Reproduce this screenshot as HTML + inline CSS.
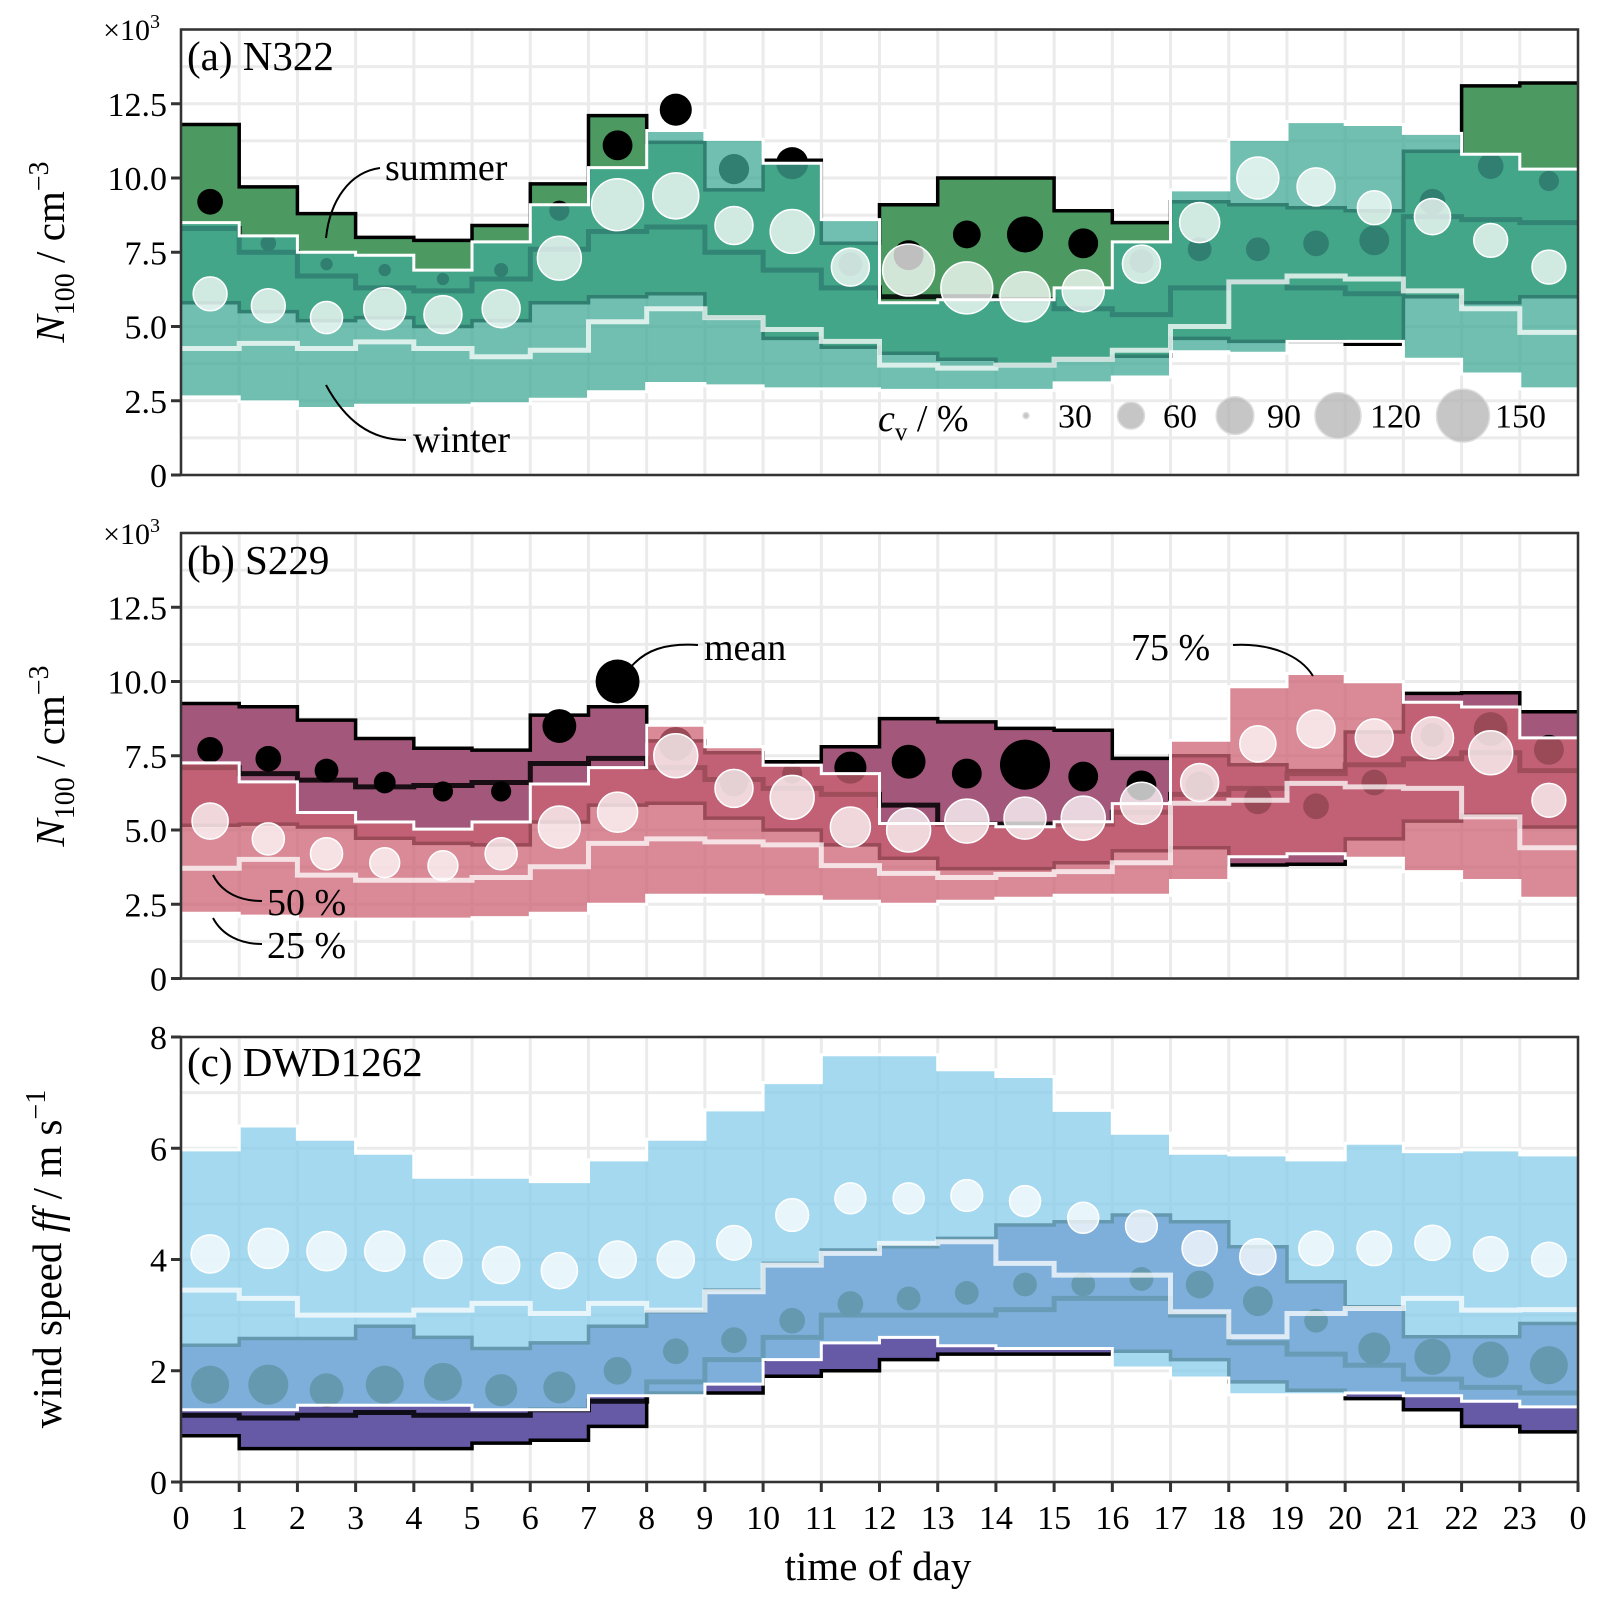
<!DOCTYPE html>
<html><head><meta charset="utf-8">
<style>
html,body{margin:0;padding:0;background:#fff;}
svg{display:block;font-family:"Liberation Serif","DejaVu Serif",serif;}
</style></head>
<body>
<svg id="chart" xmlns="http://www.w3.org/2000/svg" width="1604" height="1610" viewBox="0 0 1604 1610">
<rect x="0" y="0" width="1604" height="1610" fill="#fff"/>
<g id="layer"></g>
<g font-family="Liberation Serif, serif" fill="#000">
  <text x="160" y="40" font-size="30" text-anchor="end">×10<tspan font-size="20" dy="-12">3</tspan></text>
  <text x="160" y="544" font-size="30" text-anchor="end">×10<tspan font-size="20" dy="-12">3</tspan></text>

  <text x="187" y="70" font-size="41">(a) N322</text>
  <text x="187" y="574" font-size="41">(b) S229</text>
  <text x="187" y="1076" font-size="41">(c) DWD1262</text>

  <text transform="translate(64,252) rotate(-90)" text-anchor="middle" font-size="41"><tspan font-style="italic">N</tspan><tspan font-size="28" dy="10">100</tspan><tspan dy="-10"> / cm</tspan><tspan font-size="28" dy="-16">−3</tspan></text>
  <text transform="translate(64,756) rotate(-90)" text-anchor="middle" font-size="41"><tspan font-style="italic">N</tspan><tspan font-size="28" dy="10">100</tspan><tspan dy="-10"> / cm</tspan><tspan font-size="28" dy="-16">−3</tspan></text>
  <text transform="translate(61,1259) rotate(-90)" text-anchor="middle" font-size="41">wind speed <tspan font-style="italic">ff</tspan> / m s<tspan font-size="28" dy="-16">−1</tspan></text>

  <text x="878" y="1580" font-size="41" text-anchor="middle">time of day</text>

  <text x="385" y="180" font-size="38">summer</text>
  <path d="M380,168 C350,172 330,200 326,238" fill="none" stroke="#000" stroke-width="2"/>
  <text x="413" y="452" font-size="38">winter</text>
  <path d="M406,440 C370,440 345,420 326,385" fill="none" stroke="#000" stroke-width="2"/>

  <text x="878" y="431" font-size="38"><tspan font-style="italic">c</tspan><tspan font-size="25" dy="9">v</tspan><tspan dy="-9"> / %</tspan></text>

  <text x="704" y="660" font-size="38">mean</text>
  <path d="M698,645 C665,643 645,650 630,668" fill="none" stroke="#000" stroke-width="2"/>
  <text x="1131" y="660" font-size="38">75 %</text>
  <path d="M1233,645 C1270,643 1300,655 1313,676" fill="none" stroke="#000" stroke-width="2"/>
  <text x="267" y="915" font-size="38">50 %</text>
  <path d="M262,901 C240,901 222,893 213,875" fill="none" stroke="#000" stroke-width="2"/>
  <text x="267" y="958" font-size="38">25 %</text>
  <path d="M262,944 C240,944 222,935 213,918" fill="none" stroke="#000" stroke-width="2"/>
</g>
</svg>
<script>
const hours = [0,1,2,3,4,5,6,7,8,9,10,11,12,13,14,15,16,17,18,19,20,21,22,23];
const xTickLabels = ["0","1","2","3","4","5","6","7","8","9","10","11","12","13","14","15","16","17","18","19","20","21","22","23","0"];
const yTicksN = [0,2.5,5,7.5,10,12.5];
const yTickLabelsN = ["0","2.5","5.0","7.5","10.0","12.5"];
const yTicksW = [0,2,4,6,8];
const yTickLabelsW = ["0","2","4","6","8"];

// Panel (a) N322, x10^3 cm^-3
const aSummerQ75 = [11.8,9.7,8.8,8.0,7.9,8.4,9.8,12.1,11.2,9.6,10.6,7.8,9.1,10.0,10.0,8.9,8.5,9.2,9.1,9.0,8.9,10.9,13.1,13.2];
const aSummerQ50 = [8.3,7.5,6.7,6.3,6.2,6.6,7.6,8.2,8.35,7.5,6.9,6.3,6.0,6.0,5.9,5.6,5.4,6.3,6.5,6.3,6.1,8.7,8.6,8.5];
const aSummerQ25 = [5.8,5.5,5.2,5.3,5.0,5.2,5.8,6.0,6.1,5.3,4.6,4.3,4.1,3.9,3.7,3.9,4.0,4.6,4.5,4.5,4.4,6.0,5.8,6.0];
const aWinterQ75 = [8.5,8.05,7.5,7.4,6.9,7.85,9.1,10.35,11.6,11.3,10.5,8.6,5.8,5.9,5.9,6.3,7.85,9.6,11.3,11.9,11.8,11.5,10.8,10.3];
const aWinterQ50 = [4.26,4.43,4.26,4.48,4.26,3.98,4.2,5.16,5.6,5.3,4.9,4.5,3.7,3.6,3.7,3.9,4.2,5.0,6.5,6.7,6.6,6.2,5.6,4.8];
const aWinterQ25 = [2.63,2.46,2.24,2.35,2.35,2.4,2.55,2.8,3.08,3.0,2.9,2.9,2.85,2.85,2.85,3.1,3.3,4.15,4.1,4.5,4.5,3.9,3.4,2.9];
const aSummerMean = [9.2,7.8,7.1,6.9,6.6,6.9,8.9,11.1,12.3,10.3,10.5,7.1,7.4,8.1,8.1,7.8,7.2,7.6,7.6,7.8,7.9,9.2,10.4,9.9];
const aSummerCv = [57,39,35,35,35,37,46,67,73,68,73,53,67,62,85,67,53,53,53,57,67,57,57,46];
const aWinterMean = [6.1,5.7,5.3,5.6,5.4,5.6,7.3,9.1,9.4,8.4,8.2,7.0,6.9,6.3,6.0,6.2,7.1,8.5,10.0,9.7,9.0,8.7,7.9,7.0];
const aWinterCv = [78,78,73,105,91,91,112,145,120,91,112,91,145,145,137,105,91,98,105,91,78,85,78,78];

// Panel (b) S229
const bSummerQ75 = [9.26,9.15,8.7,8.08,7.75,7.69,8.87,9.15,8.0,7.6,7.3,7.8,8.75,8.64,8.42,8.36,7.41,7.5,7.2,7.0,8.3,9.6,9.62,8.98];
const bSummerQ50 = [7.1,6.9,6.68,6.45,6.5,6.6,7.24,7.41,7.1,6.7,6.4,6.2,5.84,5.2,5.2,5.2,5.6,6.2,6.4,6.9,7.2,7.4,7.6,7.0];
const bSummerQ25 = [5.16,5.2,5.1,4.72,4.55,4.5,5.27,5.84,5.9,5.4,5.0,4.5,4.05,3.7,3.7,3.9,4.3,4.4,3.82,3.85,4.7,5.3,5.5,5.1];
const bWinterQ75 = [7.26,6.62,5.59,5.27,5.03,5.27,6.55,7.1,8.53,7.8,7.18,6.9,5.22,5.22,5.11,5.28,5.89,8.02,9.82,10.27,9.99,9.3,9.14,8.1];
const bWinterQ50 = [3.71,4.01,3.48,3.31,3.31,3.4,3.76,4.55,4.7,4.6,4.5,3.8,3.54,3.4,3.5,3.6,3.9,5.9,6.0,6.57,6.45,6.4,5.44,4.4];
const bWinterQ25 = [2.2,2.1,2.0,2.0,2.0,2.05,2.2,2.5,2.8,2.8,2.75,2.6,2.5,2.6,2.7,2.8,2.8,3.3,4.1,4.2,4.05,3.6,3.3,2.7];
const bSummerMean = [7.7,7.4,7.0,6.6,6.3,6.3,8.5,10.0,7.9,6.6,6.9,7.1,7.3,6.9,7.2,6.8,6.5,6.5,6.0,5.8,6.6,8.2,8.4,7.7];
const bSummerCv = [57,57,53,49,46,46,78,112,78,62,46,73,78,67,137,67,67,62,62,57,57,53,78,67];
const bWinterMean = [5.3,4.7,4.2,3.9,3.8,4.2,5.1,5.6,7.5,6.4,6.1,5.1,5.0,5.3,5.4,5.4,5.9,6.6,7.9,8.4,8.1,8.1,7.6,6.0];
const bWinterCv = [85,73,73,67,67,73,105,98,112,91,112,98,112,112,105,112,105,91,85,91,91,105,112,78];

// Panel (c) DWD1262 wind speed, m/s
const cSummerQ75 = [2.46,2.58,2.58,2.8,2.6,2.4,2.5,2.8,3.06,3.45,3.93,4.17,4.23,4.38,4.62,4.68,4.8,4.68,4.23,3.6,3.15,2.61,2.61,2.85];
const cSummerQ50 = [1.2,1.15,1.2,1.25,1.2,1.2,1.3,1.45,1.8,2.2,2.6,3.0,3.0,3.0,3.1,3.3,3.3,3.0,2.5,2.3,2.1,1.85,1.7,1.6];
const cSummerQ25 = [0.83,0.6,0.6,0.6,0.6,0.7,0.75,1.0,1.6,1.6,1.9,2.0,2.2,2.3,2.3,2.3,2.35,2.2,1.8,1.65,1.5,1.3,1.0,0.9];
const cWinterQ75 = [5.97,6.4,6.16,5.91,5.48,5.48,5.4,5.79,6.16,6.69,7.18,7.68,7.68,7.41,7.29,6.68,6.27,5.91,5.88,5.79,6.09,5.94,5.97,5.88];
const cWinterQ50 = [3.45,3.3,3.0,3.0,3.09,3.21,3.03,3.21,3.09,3.42,3.9,4.11,4.29,4.32,3.93,3.72,3.72,3.06,2.61,3.03,3.12,3.3,3.09,3.1];
const cWinterQ25 = [1.3,1.3,1.38,1.38,1.38,1.3,1.3,1.55,1.55,1.76,2.2,2.5,2.6,2.45,2.4,2.4,2.05,1.87,1.57,1.57,1.6,1.55,1.45,1.35];
const cSummerMean = [1.75,1.75,1.65,1.75,1.8,1.65,1.7,2.0,2.35,2.55,2.9,3.2,3.3,3.4,3.55,3.55,3.65,3.55,3.25,2.9,2.4,2.25,2.2,2.1];
const cSummerCv = [91,98,78,91,91,73,73,62,57,57,57,57,53,53,53,53,53,62,67,53,73,85,85,91];
const cWinterMean = [4.1,4.2,4.15,4.15,4.0,3.9,3.8,4.0,4.0,4.3,4.8,5.1,5.1,5.15,5.05,4.75,4.6,4.2,4.05,4.2,4.2,4.3,4.1,4.0];
const cWinterCv = [91,98,95,98,91,88,85,88,88,80,75,70,70,72,70,70,72,82,85,80,80,82,80,80];

const legendCv = [30,60,90,120,150];

const NS = "http://www.w3.org/2000/svg";
const layer = document.getElementById("layer");
const X0 = 181, X1 = 1578;
function xs(h){ return X0 + h*(X1-X0)/24; }
function mk(tag, attrs, parent){
  const e = document.createElementNS(NS, tag);
  for (const k in attrs) e.setAttribute(k, attrs[k]);
  (parent||layer).appendChild(e);
  return e;
}
function rad(cv){ return Math.sqrt(Math.max(4, 9 + 5.78*(cv-30))); }

function stepPts(vals, ys){
  const p = [];
  vals.forEach((v,i)=>{ p.push([xs(hours[i]), ys(v)]); p.push([xs(hours[i]+1), ys(v)]); });
  return p;
}
function bandPath(lo, hi, ys){
  const up = stepPts(hi, ys), dn = stepPts(lo, ys).reverse();
  return "M" + up.concat(dn).map(p=>p[0].toFixed(1)+","+p[1].toFixed(1)).join("L") + "Z";
}
function linePath(vals, ys){
  return "M" + stepPts(vals, ys).map(p=>p[0].toFixed(1)+","+p[1].toFixed(1)).join("L");
}

function panel(cfg){
  const {id, top, bottom, vmax, gridStep, ticks, tickLabels, sCol, wCol, d, xTicks} = cfg;
  const ys = v => bottom - v/vmax*(bottom-top);
  const g = mk("g", {});
  
  
  for (let v=0; v<=vmax+1e-9; v+=gridStep){
    const l = mk("line", {x1:X0, x2:X1, y1:ys(v), y2:ys(v), stroke:"#ebebeb", "stroke-width":3}, g);
    
    
  }
  for (let h=0; h<=24; h++){
    const l = mk("line", {x1:xs(h), x2:xs(h), y1:top, y2:bottom, stroke:"#ebebeb", "stroke-width":3}, g);
    
    
  }
  const sb = mk("path", {d:bandPath(d.sQ25, d.sQ75, ys), fill:sCol}, g);
  
  
  const s75 = mk("path", {d:linePath(d.sQ75, ys), fill:"none", stroke:"#000", "stroke-width":3.5}, g);
  
  
  const s25 = mk("path", {d:linePath(d.sQ25, ys), fill:"none", stroke:"#000", "stroke-width":3.5}, g);
  
  
  const s50 = mk("path", {d:linePath(d.sQ50, ys), fill:"none", stroke:"#000", "stroke-width":5, opacity:0.85}, g);
  
  
  d.sMean.forEach((v,i)=>{
    const c = mk("circle", {cx:xs(hours[i]+0.5), cy:ys(v), r:rad(d.sCv[i]), fill:"#000"}, g);
    
    
  });
  const wb = mk("path", {d:bandPath(d.wQ25, d.wQ75, ys), fill:wCol, "fill-opacity":0.75}, g);
  
  
  const w75 = mk("path", {d:linePath(d.wQ75, ys), fill:"none", stroke:"#fff", "stroke-width":3}, g);
  
  
  const w25 = mk("path", {d:linePath(d.wQ25, ys), fill:"none", stroke:"#fff", "stroke-width":3}, g);
  
  
  const w50 = mk("path", {d:linePath(d.wQ50, ys), fill:"none", stroke:"#fff", "stroke-width":5, opacity:0.75}, g);
  
  
  d.wMean.forEach((v,i)=>{
    const c = mk("circle", {cx:xs(hours[i]+0.5), cy:ys(v), r:rad(d.wCv[i]), fill:"#fff", "fill-opacity":0.75, stroke:"#fff", "stroke-width":1.5}, g);
    
    
  });
  const fr = mk("rect", {x:X0, y:top, width:X1-X0, height:bottom-top, fill:"none", stroke:"#333", "stroke-width":2.5}, g);
  
  
  ticks.forEach((v,i)=>{
    const t = mk("line", {x1:X0-10, x2:X0, y1:ys(v), y2:ys(v), stroke:"#333", "stroke-width":3}, g);
    
    
    const tl = mk("text", {x:X0-14, y:ys(v)+12, "text-anchor":"end", "font-size":34, fill:"#000"}, g);
    tl.textContent = tickLabels[i];
    
    
  });
  if (xTicks){
    for (let h=0; h<=24; h++){
      const t = mk("line", {x1:xs(h), x2:xs(h), y1:bottom, y2:bottom+10, stroke:"#333", "stroke-width":3}, g);
      
      
    }
  }
  return ys;
}

const ysA = panel({id:"a", top:29.5, bottom:475, vmax:15, gridStep:1.25, ticks:yTicksN, tickLabels:yTickLabelsN, sCol:"#4c9a62", wCol:"#40aa97", xTicks:false,
  d:{sQ25:aSummerQ25,sQ50:aSummerQ50,sQ75:aSummerQ75,wQ25:aWinterQ25,wQ50:aWinterQ50,wQ75:aWinterQ75,sMean:aSummerMean,sCv:aSummerCv,wMean:aWinterMean,wCv:aWinterCv}});
const ysB = panel({id:"b", top:533, bottom:978.5, vmax:15, gridStep:1.25, ticks:yTicksN, tickLabels:yTickLabelsN, sCol:"#a3587b", wCol:"#cc6373", xTicks:false,
  d:{sQ25:bSummerQ25,sQ50:bSummerQ50,sQ75:bSummerQ75,wQ25:bWinterQ25,wQ50:bWinterQ50,wQ75:bWinterQ75,sMean:bSummerMean,sCv:bSummerCv,wMean:bWinterMean,wCv:bWinterCv}});
const ysC = panel({id:"c", top:1037, bottom:1482, vmax:8, gridStep:1, ticks:yTicksW, tickLabels:yTickLabelsW, sCol:"#6659a6", wCol:"#87cceb", xTicks:true,
  d:{sQ25:cSummerQ25,sQ50:cSummerQ50,sQ75:cSummerQ75,wQ25:cWinterQ25,wQ50:cWinterQ50,wQ75:cWinterQ75,sMean:cSummerMean,sCv:cSummerCv,wMean:cWinterMean,wCv:cWinterCv}});

xTickLabels.forEach((lab,i)=>{
  const t = mk("text", {x:xs(i), y:1529, "text-anchor":"middle", "font-size":34, fill:"#000"});
  t.textContent = lab;
  
  
});

const legendX = [1026,1131,1235,1338,1463];
legendCv.forEach((cv,i)=>{
  const c = mk("circle", {cx:legendX[i], cy:ysA(2.0), r:rad(cv), fill:"#b3b3b3", "fill-opacity":0.75, stroke:"#ddd", "stroke-width":1.5});
  
  
  const t = mk("text", {x:legendX[i]+32, y:ysA(2.0)+12, "font-size":34, fill:"#000"});
  t.textContent = String(cv);
  
  
});
</script>
</body></html>
